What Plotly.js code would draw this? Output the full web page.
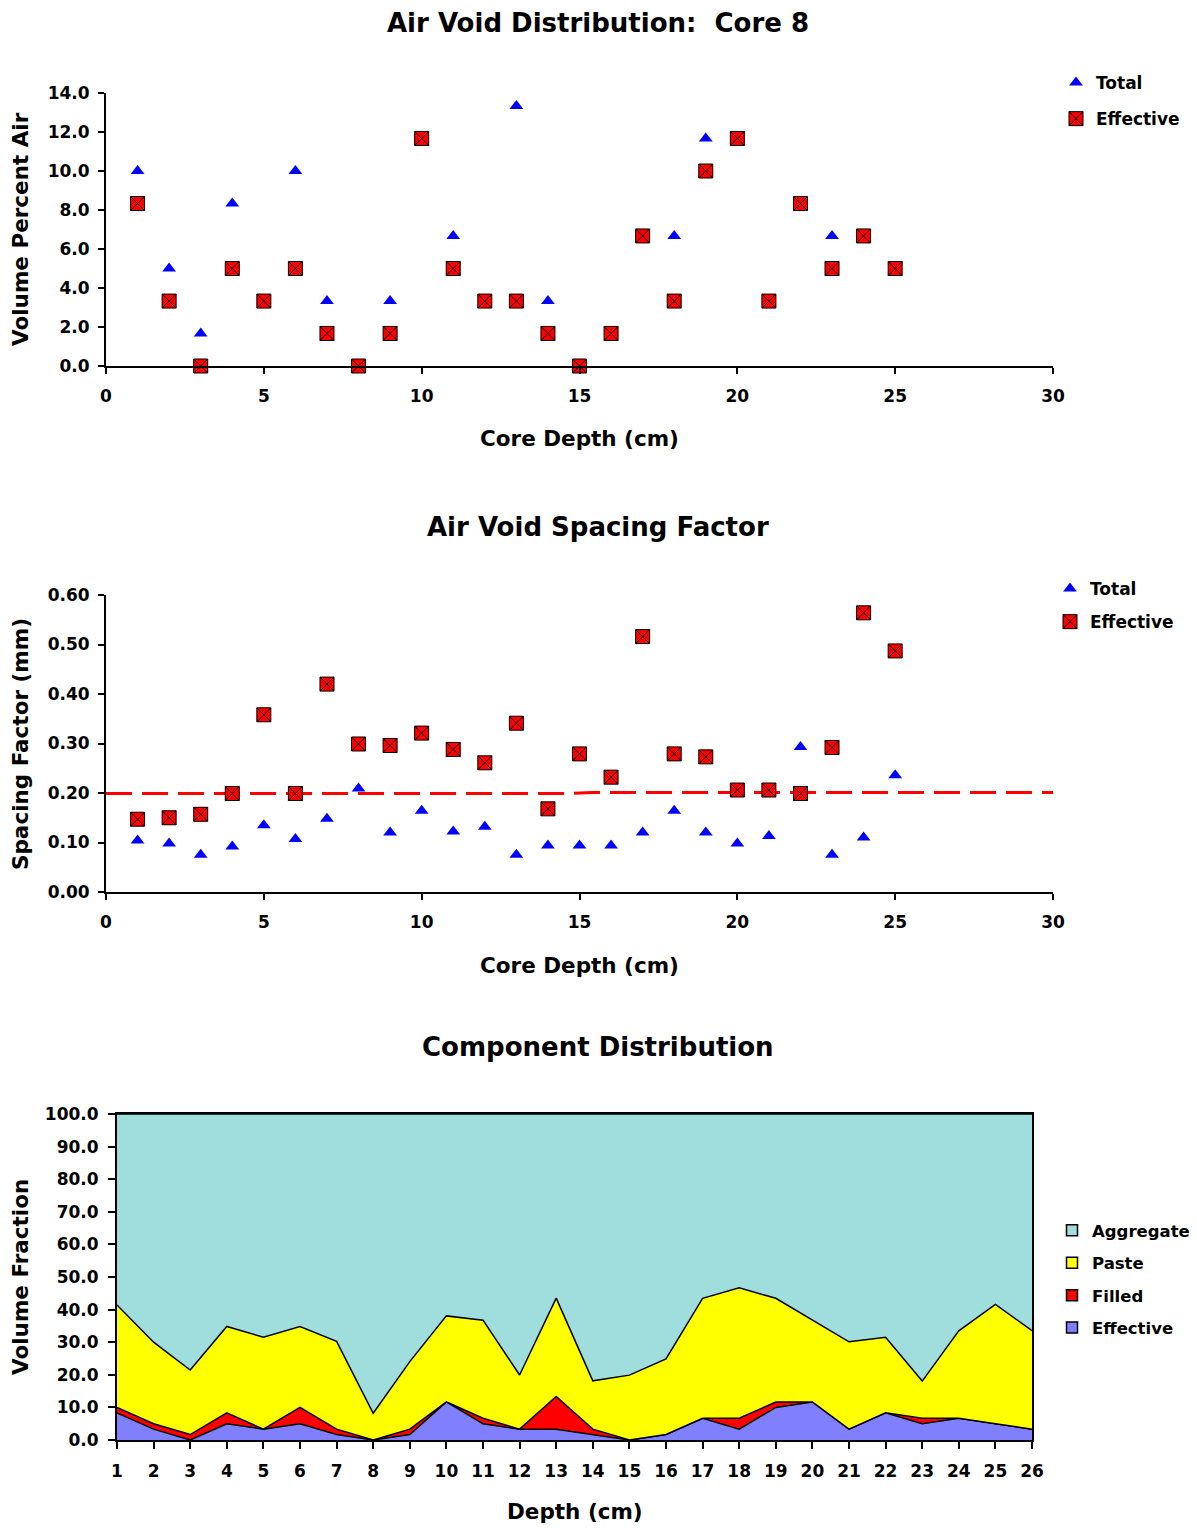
<!DOCTYPE html>
<html>
<head>
<meta charset="utf-8">
<script src="https://cdn.plot.ly/plotly-3.0.1.min.js"></script>
<style>html,body{margin:0;padding:0;background:#fff;}#chart{width:1197px;height:1528px;}</style>
</head>
<body>
<div id="chart"></div>
<script>
// ---------- data ----------
const depthCm = [1,2,3,4,5,6,7,8,9,10,11,12,13,14,15,16,17,18,19,20,21,22,23,24,25];
const totalAirPct = [10.0,5.0,1.67,8.33,3.33,10.0,3.33,0.0,3.33,11.67,6.67,3.33,13.33,3.33,0.0,1.67,6.67,6.67,11.67,11.67,3.33,8.33,6.67,6.67,5.0];
const effectiveAirPct = [8.33,3.33,0.0,5.0,3.33,5.0,1.67,0.0,1.67,11.67,5.0,3.33,3.33,1.67,0.0,1.67,6.67,3.33,10.0,11.67,3.33,8.33,5.0,6.67,5.0];

const totalSpacing = [0.104,0.098,0.075,0.092,0.135,0.107,0.148,0.209,0.120,0.164,0.122,0.132,0.075,0.094,0.094,0.094,0.120,0.164,0.120,0.098,0.113,0.293,0.075,0.110,0.236];
const effectiveSpacing = [0.147,0.150,0.157,0.199,0.358,0.199,0.420,0.299,0.296,0.321,0.288,0.261,0.341,0.168,0.279,0.232,0.516,0.279,0.273,0.206,0.206,0.199,0.292,0.564,0.487];
const limitX = [0, 14.6, 15.4, 30];
const limitY = [0.199, 0.199, 0.201, 0.201];

const compDepth = [1,2,3,4,5,6,7,8,9,10,11,12,13,14,15,16,17,18,19,20,21,22,23,24,25,26];
const compEffective = [8.33,3.33,0.0,5.0,3.33,5.0,1.67,0.0,1.67,11.67,5.0,3.33,3.33,1.67,0.0,1.67,6.67,3.33,10.0,11.67,3.33,8.33,5.0,6.67,5.0,3.33];
const compFilled = [1.67,1.67,1.67,3.33,0.0,5.0,1.67,0.0,1.67,0.0,1.67,0.0,10.0,1.67,0.0,0.0,0.0,3.33,1.67,0.0,0.0,0.0,1.67,0.0,0.0,0.0];
const compPaste = [31.4,25.0,19.8,26.5,28.2,24.8,26.9,8.2,20.7,26.4,30.1,16.6,30.2,14.8,19.9,23.2,36.8,40.0,31.8,25.1,26.8,23.2,11.4,26.8,36.6,30.2];
const compAggregate = [58.6,70.0,78.5,65.2,68.5,65.2,69.8,91.8,76.0,61.9,63.2,80.1,56.5,81.9,80.1,75.1,56.5,53.3,56.5,63.2,69.9,68.5,81.9,66.5,58.4,66.5];
const compNames = ['Effective', 'Filled', 'Paste', 'Aggregate'];
const compColors = ['#8080FF', '#FF0000', '#FFFF00', '#A0DEDE'];
const compSeries = [compEffective, compFilled, compPaste, compAggregate];

// ---------- layout helpers ----------
const W = 1197, H = 1528;
const px = v => v / W;
const py = v => 1 - v / H;
const FONT = 'DejaVu Sans, Liberation Sans, Arial, sans-serif';
const tickFont = {family: FONT, size: 17, color: '#000', weight: 'bold'};

const triMarker = {symbol: 'triangle-up', size: 12, color: '#0000FF'};
const sqMarker = {symbol: 'square-x', size: 14, color: '#FF0000', line: {color: '#000', width: 1}};

const traces = [
  {x: depthCm, y: totalAirPct, type: 'scatter', mode: 'markers', name: 'Total',
   xaxis: 'x', yaxis: 'y', legend: 'legend', legendgroup: 'a1', cliponaxis: false, marker: triMarker},
  {x: depthCm, y: effectiveAirPct, type: 'scatter', mode: 'markers', name: 'Effective',
   xaxis: 'x', yaxis: 'y', legend: 'legend', legendgroup: 'a2', cliponaxis: false, marker: sqMarker},

  {x: limitX, y: limitY, type: 'scatter', mode: 'lines', showlegend: false,
   xaxis: 'x2', yaxis: 'y2', line: {color: '#FF0000', width: 3, dash: '26px,10px'}},
  {x: depthCm, y: totalSpacing, type: 'scatter', mode: 'markers', name: 'Total',
   xaxis: 'x2', yaxis: 'y2', legend: 'legend2', legendgroup: 'b1', cliponaxis: false, marker: triMarker},
  {x: depthCm, y: effectiveSpacing, type: 'scatter', mode: 'markers', name: 'Effective',
   xaxis: 'x2', yaxis: 'y2', legend: 'legend2', legendgroup: 'b2', cliponaxis: false, marker: sqMarker}
];

compSeries.forEach((vals, i) => {
  traces.push({x: compDepth, y: vals, type: 'scatter', mode: 'lines', name: compNames[i], stackgroup: 's',
    xaxis: 'x3', yaxis: 'y3', showlegend: false,
    line: {color: '#000', width: 1.5}, fillcolor: compColors[i]});
});
// legend keys for the stacked areas (square swatches, Aggregate listed first)
compSeries.forEach((vals, i) => {
  traces.push({x: [null], y: [null], type: 'scatter', mode: 'markers', name: compNames[i],
    xaxis: 'x3', yaxis: 'y3', legend: 'legend3', legendgroup: 'c' + i, legendrank: 10 - i,
    marker: {symbol: 'square', size: 11, color: compColors[i], line: {color: '#000', width: 1.5}}});
});

const axisBase = {
  showgrid: false, zeroline: false, showline: true, linecolor: '#000', linewidth: 2,
  ticks: 'outside', ticklen: 6, tickwidth: 2, tickcolor: '#000', tickfont: tickFont
};

const annFont = (s) => ({family: FONT, size: s, color: '#000', weight: 'bold'});
const ann = (text, x, y, size, angle) => ({
  text: text, x: px(x), y: py(y), xref: 'paper', yref: 'paper',
  xanchor: 'center', yanchor: 'middle', showarrow: false, font: annFont(size), textangle: angle || 0
});

const legendBase = {
  font: {family: FONT, size: 17, color: '#000', weight: 'bold'},
  bgcolor: 'rgba(0,0,0,0)', xanchor: 'left', yanchor: 'top',
  traceorder: 'grouped', tracegroupgap: 11, itemwidth: 30
};

const layout = {
  width: W, height: H, margin: {l: 0, r: 0, t: 0, b: 0},
  paper_bgcolor: '#fff', plot_bgcolor: 'rgba(0,0,0,0)',
  font: {family: FONT, color: '#000'},
  xaxis: Object.assign({}, axisBase, {domain: [px(106), px(1053)], range: [0, 30], dtick: 5, tick0: 0,
    anchor: 'y', ticklabelstandoff: 8}),
  yaxis: Object.assign({}, axisBase, {domain: [py(366), py(93)], range: [0, 14], dtick: 2, tick0: 0,
    tickformat: '.1f', anchor: 'x', ticklabelstandoff: 5}),
  xaxis2: Object.assign({}, axisBase, {domain: [px(106), px(1053)], range: [0, 30], dtick: 5, tick0: 0,
    anchor: 'y2', ticklabelstandoff: 8}),
  yaxis2: Object.assign({}, axisBase, {domain: [py(892), py(595)], range: [0, 0.6], dtick: 0.1, tick0: 0,
    tickformat: '.2f', anchor: 'x2', ticklabelstandoff: 5}),
  xaxis3: Object.assign({}, axisBase, {domain: [px(117), px(1032)], range: [1, 26], dtick: 1, tick0: 1,
    anchor: 'y3', ticklen: 7, ticklabelstandoff: 8, mirror: true}),
  yaxis3: Object.assign({}, axisBase, {domain: [py(1440), py(1114)], range: [0, 100], dtick: 10, tick0: 0,
    tickformat: '.1f', anchor: 'x3', ticklen: 7, ticklabelstandoff: 6, mirror: true}),
  legend: Object.assign({}, legendBase, {x: px(1056), y: py(65)}),
  legend2: Object.assign({}, legendBase, {x: px(1050), y: py(571), tracegroupgap: 8}),
  legend3: Object.assign({}, legendBase, {x: px(1052), y: py(1213), traceorder: 'grouped',
    tracegroupgap: 8, font: {family: FONT, size: 16.5, color: '#000', weight: 'bold'}}),
  annotations: [
    ann('Air Void Distribution:\u00A0 Core 8', 598, 23, 26),
    ann('Air Void Spacing Factor', 598, 527, 26),
    ann('Component Distribution', 598, 1047, 26),
    ann('Core Depth (cm)', 579, 438, 21.5),
    ann('Core Depth (cm)', 579, 965, 21.5),
    ann('Depth (cm)', 575, 1511, 21.5),
    ann('Volume Percent Air', 20, 229, 21.5, -90),
    ann('Spacing Factor (mm)', 20, 744, 21.5, -90),
    ann('Volume Fraction', 20, 1277, 21.5, -90)
  ],
  showlegend: true
};

Plotly.newPlot('chart', traces, layout, {displayModeBar: false, staticPlot: true});
</script>
</body>
</html>
